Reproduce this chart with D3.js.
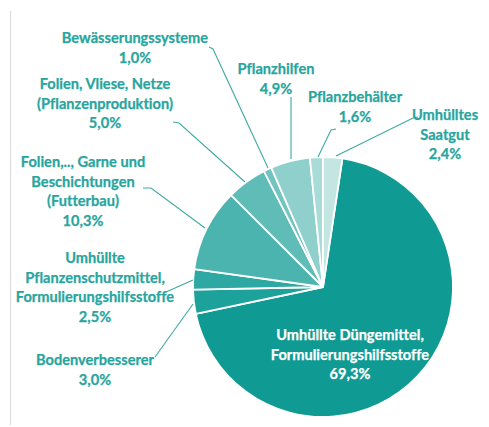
<!DOCTYPE html>
<html><head><meta charset="utf-8">
<script src="https://cdn.jsdelivr.net/npm/d3@7"></script>
<style>
html,body{margin:0;padding:0;background:#fff;}
svg{display:block;}
text{font-family:Lato,"Open Sans",sans-serif;font-weight:bold;font-variant-ligatures:none;}
</style></head>
<body>
<svg id="chart" width="489" height="427"></svg>
<script>
// Data (clockwise from the start of the large slice)
const categories = [
  "Umhüllte Düngemittel, Formulierungshilfsstoffe",
  "Bodenverbesserer",
  "Umhüllte Pflanzenschutzmittel, Formulierungshilfsstoffe",
  "Folien,.., Garne und Beschichtungen (Futterbau)",
  "Folien, Vliese, Netze (Pflanzenproduktion)",
  "Bewässerungssysteme",
  "Pflanzhilfen",
  "Pflanzbehälter",
  "Umhülltes Saatgut"
];
const values = [69.3, 3.0, 2.5, 10.3, 5.0, 1.0, 4.9, 1.6, 2.4];
const valueLabels = ["69,3%", "3,0%", "2,5%", "10,3%", "5,0%", "1,0%", "4,9%", "1,6%", "2,4%"];
const labelLines = [
  ["Umhüllte Düngemittel,", "Formulierungshilfsstoffe"],
  ["Bodenverbesserer"],
  ["Umhüllte", "Pflanzenschutzmittel,", "Formulierungshilfsstoffe"],
  ["Folien,..,  Garne und", "Beschichtungen", "(Futterbau)"],
  ["Folien, Vliese, Netze", "(Pflanzenproduktion)"],
  ["Bewässerungssysteme"],
  ["Pflanzhilfen"],
  ["Pflanzbehälter"],
  ["Umhülltes", "Saatgut"]
];
const colors = ["#0f9a93", "#1ca29b", "#2ea8a2", "#4cb4af", "#5fbcb7", "#72c4c0", "#8fd0cc", "#a9dbd8", "#c3e6e3"];

// Layout (positions/styles)
const W = 489, H = 427;
const cx = 323, cy = 287, R = 130;
const startDeg = 8.6;
const labelPos = [
  [350, 335], [95, 360], [95, 258], [83, 162], [105, 84], [135, 38], [276, 69], [355, 97], [445, 115]
];
const lineH = 19.6;
const leaders = [
  null,
  [[155, 357], [193, 304]],
  [[166, 292], [193, 280]],
  [[143, 188], [151, 188], [205, 228]],
  [[173, 122], [179, 123], [245, 182]],
  [[209, 47], [213, 49], [268, 168]],
  [[291, 97], [291, 159]],
  [[336, 129], [331, 130], [318, 157]],
  [[418, 117], [413, 118], [336, 156]]
];

const svg = d3.select("#chart");
svg.append("line").attr("x1", 10.5).attr("x2", 10.5).attr("y1", 11).attr("y2", 425)
  .attr("stroke", "#d9d9d9").attr("stroke-width", 1);

const pie = d3.pie().sort(null).value(d => d)
  .startAngle(startDeg * Math.PI / 180)
  .endAngle(startDeg * Math.PI / 180 + 2 * Math.PI);
const arc = d3.arc().innerRadius(0).outerRadius(R);
const arcs = pie(values);

const g = svg.append("g").attr("transform", `translate(${cx},${cy})`);
g.selectAll("path").data(arcs).join("path")
  .attr("d", arc)
  .attr("fill", (d, i) => colors[i])
  .attr("stroke", "#fff").attr("stroke-width", 1.8).attr("stroke-linejoin", "round");

const lineGen = d3.line();
svg.selectAll("path.leader").data(leaders.filter(d => d)).join("path")
  .attr("class", "leader")
  .attr("d", d => lineGen(d))
  .attr("fill", "none").attr("stroke", "#3fa9a3").attr("stroke-width", 1.1);

const fontSize = 14.6;
categories.forEach((c, i) => {
  const lines = labelLines[i].concat([valueLabels[i]]);
  const col = i === 0 ? "#ffffff" : "#27a59e";
  const t = svg.append("text")
    .attr("text-anchor", "middle")
    .attr("font-size", fontSize)
    .attr("fill", col)
    .attr("stroke", col).attr("stroke-width", 0.25);
  lines.forEach((ln, k) => {
    t.append("tspan").attr("x", labelPos[i][0]).attr("y", labelPos[i][1] + 5 + k * lineH).text(ln);
  });
});
</script>
</body></html>
